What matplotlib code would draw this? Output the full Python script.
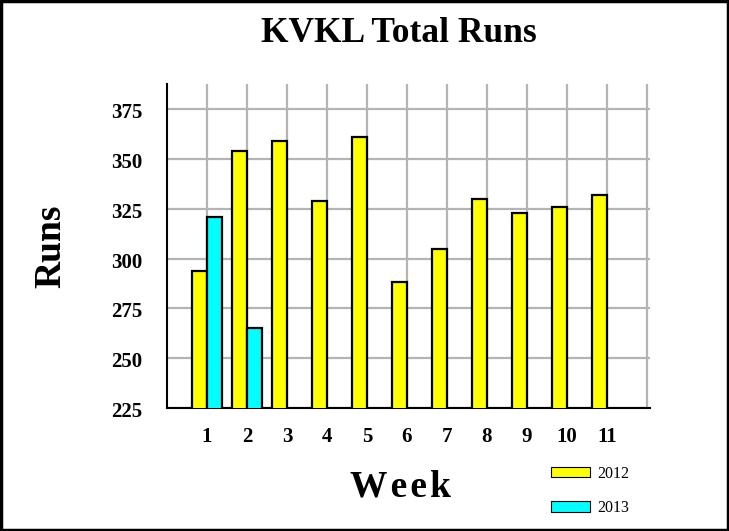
import matplotlib
matplotlib.use("Agg")
import matplotlib.pyplot as plt
import matplotlib.transforms as mtransforms
import numpy as np

weeks = [1, 2, 3, 4, 5, 6, 7, 8, 9, 10, 11]
runs_2012 = [294, 354, 359, 329, 361, 288, 305, 330, 323, 326, 332]
weeks_2013 = [1, 2]
runs_2013 = [321, 265]
week_labels = [str(w) for w in weeks]
y_ticks = [225, 250, 275, 300, 325, 350, 375]

plt.rcParams['font.family'] = ['Liberation Serif', 'DejaVu Serif']
plt.rcParams['font.weight'] = 'bold'

fig = plt.figure(figsize=(7.29, 5.31), dpi=100)
ax = fig.add_axes([167/729, 1-408/531, (650-167)/729, (408-84)/531])

w = 0.375
ax.bar(np.array(weeks) - w/2, runs_2012, width=w, color='#ffff00',
       edgecolor='black', linewidth=1.6, label='2012', zorder=3)
ax.bar(np.array(weeks_2013) + w/2, runs_2013, width=w, color='#00ffff',
       edgecolor='black', linewidth=1.6, label='2013', zorder=3)

ax.set_ylim(225, 387.6)
ax.set_xlim(0, 12.08)
ax.set_yticks(y_ticks)
ax.set_yticklabels([])
ax.set_xticks(list(range(1, 13)))
ax.set_xticklabels(week_labels + [''], fontsize=15, fontweight='bold')
ax.tick_params(axis='both', length=0)
ax.tick_params(axis='x', pad=14)

ytrans = mtransforms.offset_copy(ax.get_yaxis_transform(), fig=fig,
                                 x=-25, y=-4, units='dots')
for v in y_ticks:
    ax.text(0, v, str(v), transform=ytrans, ha='right', va='center',
            fontsize=15, fontweight='bold')

ax.grid(True, color='#b4b4b4', linewidth=1.6, zorder=0)
ax.set_axisbelow(True)
for s in ['top', 'right']:
    ax.spines[s].set_visible(False)
ax.spines['left'].set_linewidth(1.5)
ax.spines['bottom'].set_linewidth(1.5)

fig.text(399/729, 1-34/531, 'KVKL Total Runs', ha='center', va='center',
         fontsize=25.5, fontweight='bold')
fig.text(51/729, 1-246/531, 'Runs', ha='center', va='center', rotation=90,
         fontsize=27, fontweight='bold')
hs = '\u200a'
fig.text(400/729, 1-487/531, hs.join('Week'), ha='center', va='center',
         fontsize=27, fontweight='bold')

handles, labels = ax.get_legend_handles_labels()
leg = fig.legend(handles, labels, loc='center left',
                 bbox_to_anchor=(537/729, 1-491/531), frameon=False,
                 fontsize=11.5, handlelength=2.4, handleheight=0.6,
                 labelspacing=1.15, handletextpad=0.5)
for t in leg.get_texts():
    t.set_fontweight('normal')
for p in leg.get_patches():
    p.set_linewidth(0.8)

border = plt.Rectangle((0.002, 0.002), 0.996, 0.996, transform=fig.transFigure,
                       fill=False, edgecolor='black', linewidth=2.5)
fig.patches.append(border)

fig.savefig('out.png', dpi=100)
